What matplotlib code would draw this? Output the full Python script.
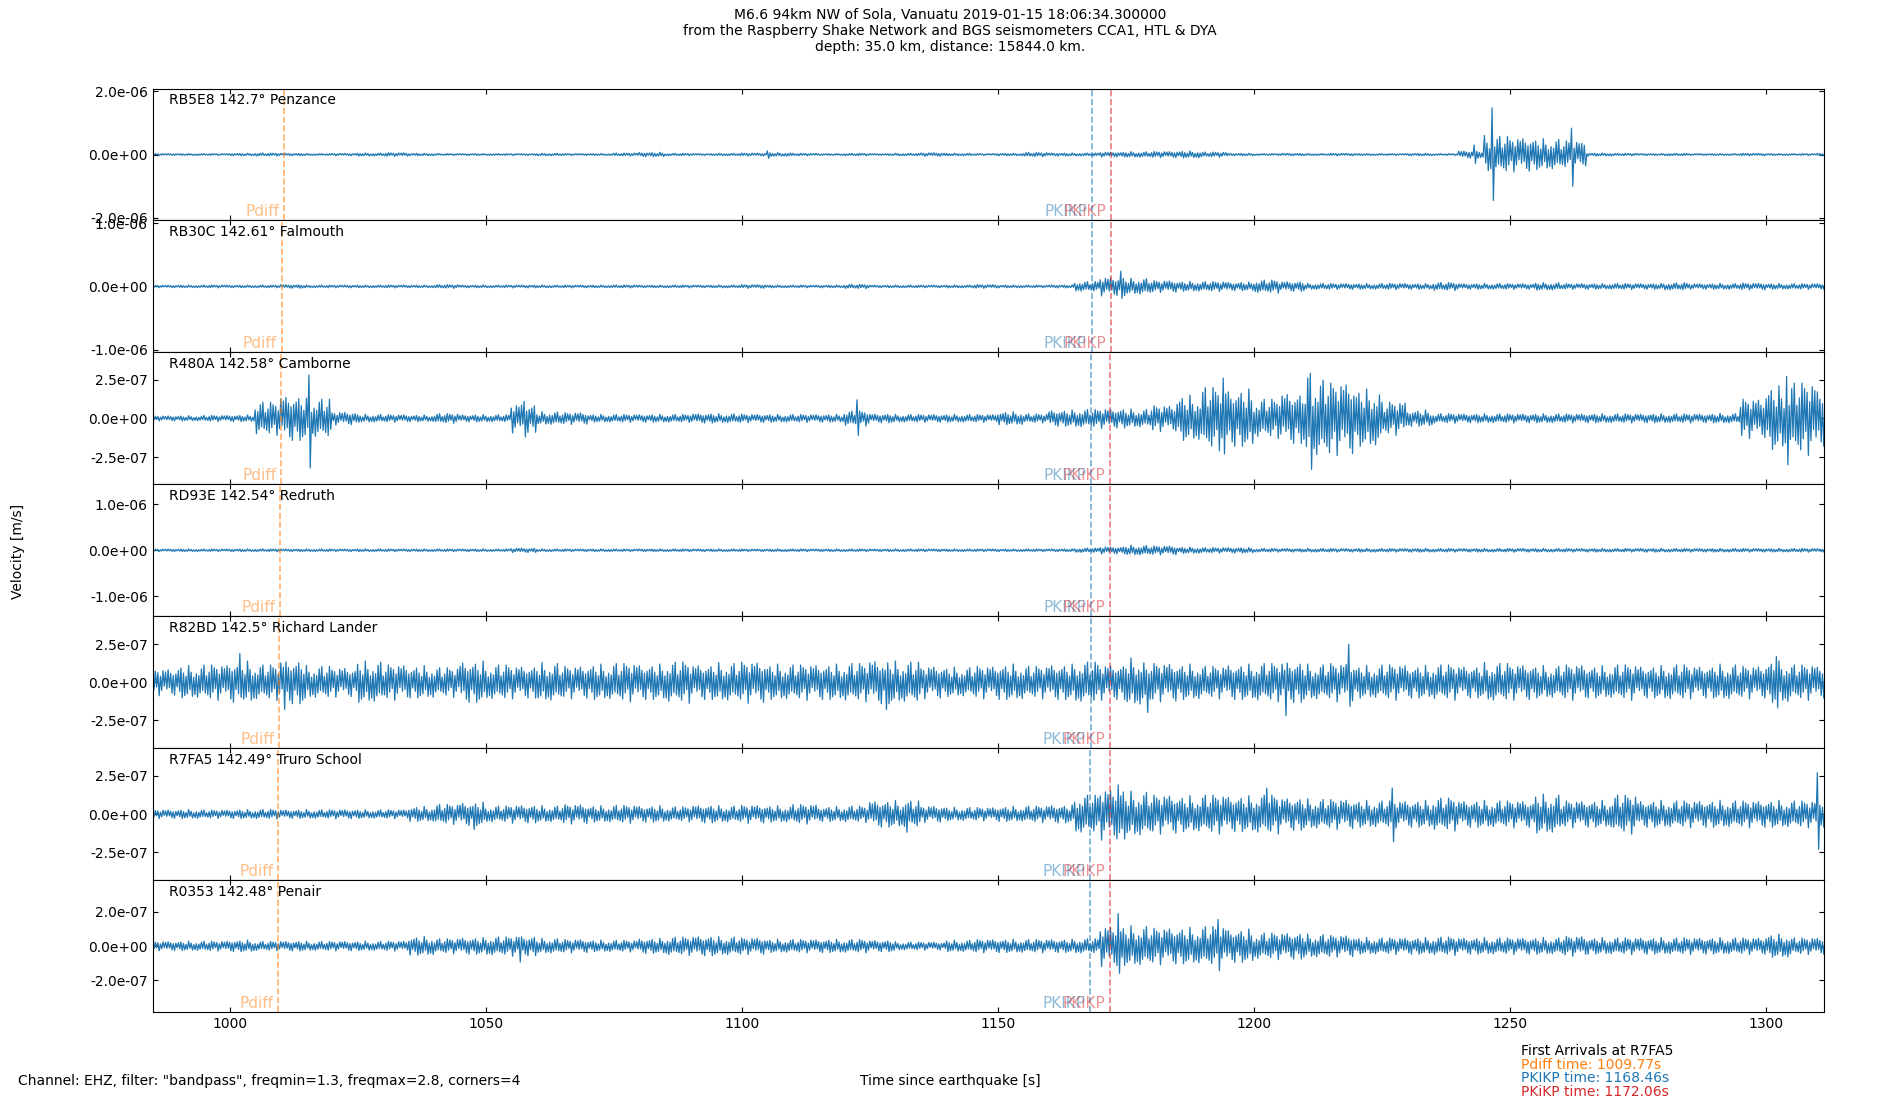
"""
Seismograms of the M6.6 Vanuatu quake recorded on Cornish Raspberry Shakes.
"""

import matplotlib
matplotlib.use('Agg')
import matplotlib.pyplot as plt
import numpy as np
from matplotlib.ticker import FormatStrFormatter

# Stations (top to bottom).
codes = ['RB5E8', 'RB30C', 'R480A', 'RD93E', 'R82BD', 'R7FA5', 'R0353']
dists = [142.7, 142.61, 142.58, 142.54, 142.5, 142.49, 142.48]
names = ['Penzance', 'Falmouth', 'Camborne', 'Redruth', 'Richard Lander',
         'Truro School', 'Penair']

# Arrival times per station as drawn [s].
pdiff = [1010.55, 1010.15, 1010.0, 1009.8, 1009.6, 1009.55, 1009.5]
pkikp = [1168.45, 1168.3, 1168.25, 1168.2, 1168.1, 1168.05, 1168.05]
pkikp2 = [1172.1, 1172.0, 1171.95, 1171.9, 1171.9, 1171.85, 1171.85]

# First arrivals at R7FA5 as printed [s].
first_station = 'R7FA5'
first_phases = ['Pdiff', 'PKIKP', 'PKiKP']
first_times = [1009.77, 1168.46, 1172.06]

# Axis half-ranges and tick steps [m/s].
ymax = [2.08e-6, 1.04e-6, 4.26e-7, 1.43e-6, 4.36e-7, 4.3e-7, 3.87e-7]
ystep = [2.0e-6, 1.0e-6, 2.5e-7, 1.0e-6, 2.5e-7, 2.5e-7, 2.0e-7]

# Trace envelopes, 5 s bins from 985 s (units 1e-8 m/s).
env_rb5e8 = [3, 3, 3, 4, 5, 4, 3, 4, 5, 6,
             4, 3, 3, 3, 3, 4, 3, 3, 5, 7,
             4, 3, 4, 5, 6, 4, 3, 4, 3, 4,
             6, 4, 3, 4, 7, 5, 5, 8, 9, 10,
             11, 8, 4, 3, 4, 3, 4, 3, 3, 4,
             3, 12, 60, 55, 50, 45, 5, 4, 3, 4,
             3, 3, 4, 3, 3, 4]
env_rb30c = [2.1, 2.1, 2.3, 2.1, 2.2, 3, 2.1, 2.2, 2.1, 2.3,
             2.1, 3, 2.2, 2.1, 2.3, 2.1, 2.2, 2.1, 2.4, 2.1,
             2.2, 2.1, 2.3, 3, 2.2, 2.1, 2.2, 3.5, 2.1, 2.2,
             2.1, 2.3, 3, 2.2, 2.1, 2.5, 8, 15, 13, 9.5,
             8, 8, 7, 10.5, 8, 5, 4.8, 4.5, 5, 4.6,
             6.5, 4.6, 4.8, 4.5, 6, 4.7, 4.5, 4.8, 4.6, 6,
             4.5, 4.7, 5.5, 4.6, 4.5, 4.7]
env_r480a = [1.7, 1.7, 2, 2.2, 11, 15, 13, 4.3, 2.6, 2.5,
             2.2, 3.2, 2.4, 2.4, 9.5, 4.3, 3.9, 2.6, 2.6, 2.6,
             2.6, 3.2, 3, 2.8, 2.6, 2.6, 2.6, 5, 3, 2.6,
             2.6, 2.6, 2.6, 4.3, 3, 5.4, 6, 6.5, 6, 8.6,
             15, 21, 19, 13, 17, 26, 24, 19, 11, 5.4,
             3.2, 3, 3, 3, 3, 3, 3, 3, 3, 3,
             3, 3.2, 13, 21, 24, 19]
env_rd93e = [2.9, 3, 2.8, 3, 3.1, 2.9, 3, 2.8, 3, 3,
             2.9, 3, 3, 2.8, 5, 3, 2.9, 3, 2.8, 3,
             3, 2.9, 3, 2.8, 3, 3, 2.9, 3, 2.8, 3,
             3, 2.9, 3, 2.8, 3, 3.2, 5, 8, 11, 10,
             7, 6, 6, 4.2, 4, 4.2, 4, 4.1, 4, 4.2,
             4, 4.1, 4, 4.2, 4, 4, 4.1, 4, 4.2, 4,
             4, 4.1, 4, 4, 4.2, 4]
env_r82bd = [9, 11, 12, 14, 12, 15, 11, 10, 14, 12,
             11, 10, 14, 12, 11, 13, 11, 12, 13, 12,
             14, 12, 13, 14, 12, 12, 12, 13, 15, 14,
             11, 10, 11, 12, 11, 12, 14, 12, 16, 13,
             12, 11, 12, 13, 14, 12, 13, 11, 12, 11,
             12, 11, 13, 12, 11, 12, 11, 12, 11, 12,
             11, 12, 11, 14, 12, 11]
env_r7fa5 = [2.9, 3, 2.8, 3, 3.2, 2.9, 3, 3.1, 2.9, 3,
             5, 6.7, 7.8, 5.5, 6, 5.5, 6.5, 5.5, 6, 5.5,
             5, 6, 5.5, 6, 5.5, 6.5, 5, 5.5, 8.9, 8.9,
             5.5, 4.5, 4.5, 5, 5.5, 6, 13, 17, 15, 13,
             12, 13, 12, 13, 11, 10, 10, 9, 9, 9,
             11, 9, 9, 9, 13, 9, 9, 13, 9, 9,
             9, 9, 9, 9, 9, 9]
env_r0353 = [2.8, 2.8, 3, 3.5, 2.8, 3, 2.8, 2.9, 2.8, 3,
             5.6, 4.5, 5, 5.6, 6, 4.5, 4, 3.5, 3.5, 4.5,
             5.5, 6, 5.5, 5, 4, 4, 4, 4, 3.5, 2.5,
             2.5, 3.5, 4, 4, 4, 4, 4.5, 12, 12, 11,
             11, 12, 10, 8, 8, 7, 6.5, 5, 5, 5,
             5.5, 5, 5, 5, 5, 6, 5, 5, 5, 5,
             5, 5, 5, 7, 5, 5]
envelopes = [env_rb5e8, env_rb30c, env_r480a, env_rd93e, env_r82bd,
             env_r7fa5, env_r0353]

# Single large swings (time [s], up, down) in 1e-8 m/s.
spikes = [
    [(1105.2, 11, -12), (1243.0, 30, -28), (1246.6, 147, -145),
     (1262.3, 83, -100), (1264.0, 35, -30)],
    [(1174.0, 24, -19)],
    [(1015.4, 28, -32), (1057.5, 11, -12), (1122.7, 12, -11),
     (1194.3, 26, -23), (1211.2, 29, -33), (1304.0, 27, -30)],
    [],
    [(1002.2, 19, -10), (1010.5, 10, -18), (1128.0, 8, -18),
     (1179.0, 8, -20), (1206.0, 8, -22), (1218.5, 25, -16),
     (1302.0, 17, -17)],
    [(1047.5, 5, -10), (1132.0, 6, -11.8), (1173.7, 19, -12),
     (1202.7, 17, -10), (1227.1, 17, -18), (1310.1, 27, -23)],
    [(1056.6, 5, -9.4), (1173.7, 19, -16), (1193.2, 15.6, -14.4)],
]

# Peak-to-peak variation of successive half cycles.
jitter = [0.95, 0.55, 0.8, 0.35, 0.7, 1.0, 0.45, 0.6, 0.85, 0.3, 0.75, 0.5,
          0.9, 0.4, 0.65, 0.8, 0.5, 0.95, 0.6, 0.35, 0.7, 0.55, 0.85]

t_start, t_end, bin_width, half_cycle = 985.0, 1311.3, 5.0, 0.25

title = ('M6.6 94km NW of Sola, Vanuatu 2019-01-15 18:06:34.300000\n'
         'from the Raspberry Shake Network and BGS seismometers CCA1, HTL & DYA\n'
         'depth: 35.0 km, distance: 15844.0 km.')


def build_trace(env, spk):
    """ Zig-zag trace between the envelope values. """
    t = np.arange(t_start, t_end + half_cycle, half_cycle)
    bins = ((t - t_start) // bin_width).astype(int)
    sign = np.where(np.arange(len(t)) % 2 == 0, 1.0, -1.0)
    jit = np.array([jitter[i % len(jitter)] for i in range(len(t))])
    v = np.array(env)[bins] * jit * sign
    for ts, up, down in spk:
        i = int(round((ts - t_start) / half_cycle))
        i -= i % 2
        v[i], v[i + 1] = up, down
    return t, v * 1e-8


fig, axes = plt.subplots(7, 1, sharex=True, figsize=(19, 11), dpi=100)
fig.subplots_adjust(left=0.0804, right=0.96, top=0.9195, bottom=0.08,
                    hspace=0)

for i, ax in enumerate(axes):
    t, v = build_trace(envelopes[i], spikes[i])
    ax.plot(t, v, color='C0', lw=0.9)

    # Phase arrivals.
    for tt, col, lab in [(pdiff[i], 'C1', 'Pdiff'), (pkikp[i], 'C0', 'PKIKP'),
                         (pkikp2[i], 'C3', 'PKiKP')]:
        ax.axvline(tt, color=col, ls='--', lw=1.2, alpha=0.6)
        ax.text(tt - 0.9, -ymax[i] * 0.985, lab, color=col, alpha=0.5,
                ha='right', va='bottom', fontsize=11)

    ax.text(0.01, 0.965, f'{codes[i]} {dists[i]}° {names[i]}',
            transform=ax.transAxes, ha='left', va='top', fontsize=10)

    ax.set_ylim(-ymax[i], ymax[i])
    ax.set_yticks([-ystep[i], 0, ystep[i]])
    ax.yaxis.set_major_formatter(FormatStrFormatter('%.1e'))
    ax.tick_params(direction='in', top=True, right=True, labelsize=10)

axes[-1].set_xlim(t_start, t_end)
axes[-1].set_xticks(np.arange(1000, 1301, 50))

fig.text(0.5, 1 - 8 / 1100, title, ha='center', va='top', fontsize=10)
fig.text(0.0095, 0.499, 'Velocity [m/s]', rotation=90, ha='center',
         va='center', fontsize=10)
fig.text(0.5, 1 - 1081 / 1100, 'Time since earthquake [s]', ha='center',
         va='center', fontsize=10)
fig.text(0.0095, 1 - 1081 / 1100,
         'Channel: EHZ, filter: "bandpass", freqmin=1.3, freqmax=2.8, '
         'corners=4', ha='left', va='center', fontsize=10)

# First arrivals box.
info = [(f'First Arrivals at {first_station}', 'black')]
info += [(f'{p} time: {tm:.2f}s', c)
         for p, tm, c in zip(first_phases, first_times, ['C1', 'C0', 'C3'])]
for (txt, col), yy in zip(info, [1051, 1065, 1078, 1092]):
    fig.text(0.8005, 1 - yy / 1100, txt, color=col, ha='left', va='center',
             fontsize=10)

plt.savefig('out.png', dpi=100)
plt.close()
